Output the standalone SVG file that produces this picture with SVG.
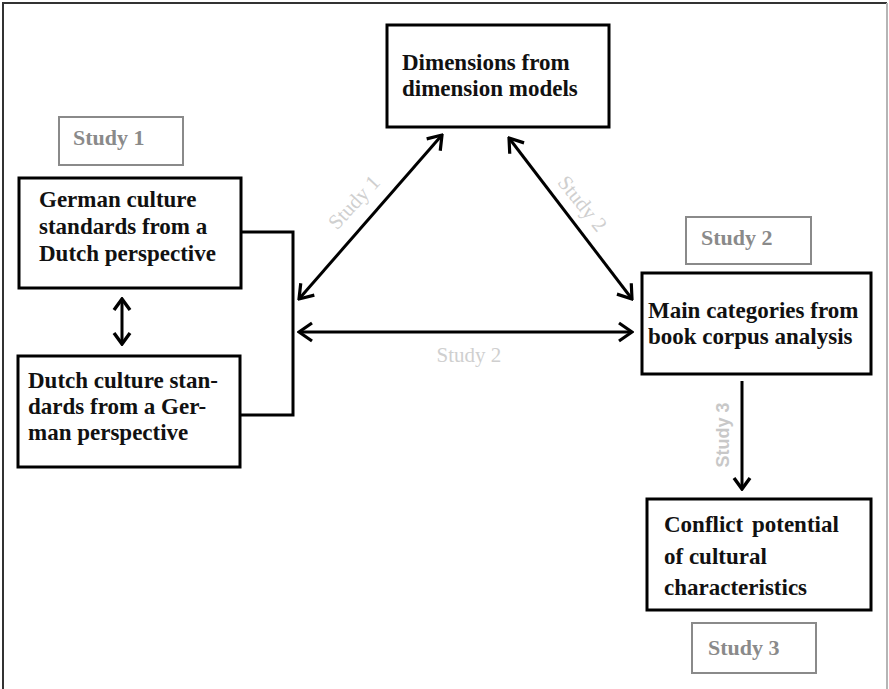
<svg xmlns="http://www.w3.org/2000/svg" width="889" height="689" viewBox="0 0 889 689">
  <style>
    .box { fill: #fff; stroke: #000; stroke-width: 3; }
    .tag { fill: #fff; stroke: #8a8a8a; stroke-width: 2; }
    .txt { font-family: "Liberation Serif", "Times New Roman", serif; font-weight: bold; font-size: 23px; fill: #111; }
    .tagtxt { font-family: "Liberation Serif", "Times New Roman", serif; font-weight: bold; font-size: 22px; fill: #8a8a8a; }
    .lbl { font-family: "Liberation Serif", "Times New Roman", serif; font-size: 21px; fill: #cfcfcf; }
    .lblsans { font-family: "Liberation Sans", Arial, sans-serif; font-weight: bold; font-size: 18px; fill: #c8c8c8; }
    .conn { fill: none; stroke: #000; stroke-width: 3; }
  </style>
  <defs>
    <marker id="chev" viewBox="-16 -11 18 22" refX="0" refY="0" markerWidth="18" markerHeight="22" markerUnits="userSpaceOnUse" orient="auto-start-reverse">
      <path d="M-13,-9 L0,0 L-13,9" fill="none" stroke="#000" stroke-width="3.2"/>
    </marker>
    <marker id="chevs" viewBox="-14 -10 16 20" refX="0" refY="0" markerWidth="16" markerHeight="20" markerUnits="userSpaceOnUse" orient="auto-start-reverse">
      <path d="M-11,-8 L0,0 L-11,8" fill="none" stroke="#000" stroke-width="3.4"/>
    </marker>
  </defs>

  <rect width="889" height="689" fill="#fff"/>
  <!-- frame -->
  <path d="M3,689 V3 H887" fill="none" stroke="#333" stroke-width="2"/>
  <path d="M887,3 V689" fill="none" stroke="#b5b5b5" stroke-width="2"/>

  <!-- connectors -->
  <g id="connectors">
    <polyline class="conn" points="241,232 293,232 293,415 241,415"/>
    <line class="conn" x1="442" y1="135" x2="299" y2="299" marker-start="url(#chev)" marker-end="url(#chev)"/>
    <line class="conn" x1="509" y1="138" x2="632" y2="299" marker-start="url(#chev)" marker-end="url(#chev)"/>
    <line class="conn" x1="299" y1="332" x2="632" y2="332" marker-start="url(#chev)" marker-end="url(#chev)"/>
    <line class="conn" x1="122" y1="299" x2="122" y2="344" stroke-width="3.5" marker-start="url(#chevs)" marker-end="url(#chevs)"/>
    <line class="conn" x1="742" y1="381" x2="742" y2="489" stroke-width="3.5" marker-end="url(#chevs)"/>
    <text class="lbl" transform="translate(359,207) rotate(-47)" text-anchor="middle">Study 1</text>
    <text class="lbl" transform="translate(577,208) rotate(51)" text-anchor="middle">Study 2</text>
    <text class="lbl" x="469" y="362" text-anchor="middle">Study 2</text>
    <text class="lblsans" transform="translate(729,435) rotate(-90)" text-anchor="middle">Study 3</text>
  </g>

  <g id="dimensions">
    <rect class="box" x="387" y="25" width="222" height="102"/>
    <text class="txt" x="402" y="70">Dimensions from</text>
    <text class="txt" x="402" y="96">dimension models</text>
  </g>

  <g id="study1-tag">
    <rect class="tag" x="59" y="117" width="124" height="48"/>
    <text class="tagtxt" x="73" y="145">Study 1</text>
  </g>

  <g id="german">
    <rect class="box" x="19" y="178" width="222" height="110"/>
    <text class="txt" x="39" y="207">German culture</text>
    <text class="txt" x="39" y="234">standards from a</text>
    <text class="txt" x="39" y="261">Dutch perspective</text>
  </g>

  <g id="dutch">
    <rect class="box" x="18" y="356" width="222" height="111"/>
    <text class="txt" x="28" y="388">Dutch culture stan-</text>
    <text class="txt" x="28" y="414">dards from a Ger-</text>
    <text class="txt" x="28" y="440">man perspective</text>
  </g>

  <g id="study2-tag">
    <rect class="tag" x="686" y="217" width="125" height="47"/>
    <text class="tagtxt" x="701" y="245">Study 2</text>
  </g>

  <g id="main-categories">
    <rect class="box" x="642" y="273" width="229" height="101"/>
    <text class="txt" x="648" y="318" font-size="23.5">Main categories from</text>
    <text class="txt" x="648" y="344" font-size="23.5">book corpus analysis</text>
  </g>

  <g id="conflict">
    <rect class="box" x="647" y="499" width="224" height="111"/>
    <text class="txt" x="664" y="532" font-size="24" word-spacing="3">Conflict potential</text>
    <text class="txt" x="664" y="564" font-size="24">of cultural</text>
    <text class="txt" x="664" y="595" font-size="24">characteristics</text>
  </g>

  <g id="study3-tag">
    <rect class="tag" x="692" y="623" width="124" height="50"/>
    <text class="tagtxt" x="708" y="655">Study 3</text>
  </g>
</svg>
